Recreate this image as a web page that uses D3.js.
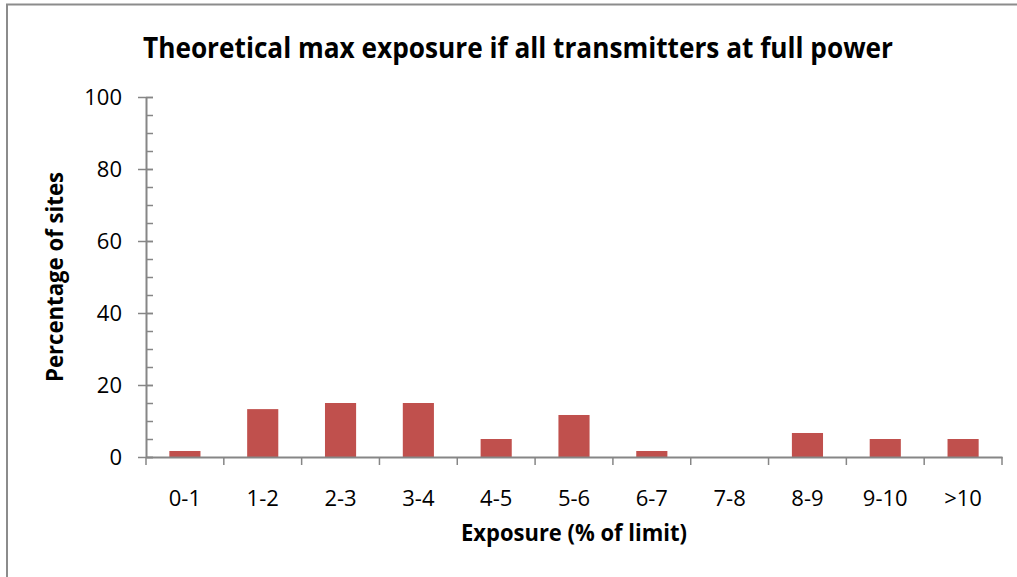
<!DOCTYPE html>
<html><head><meta charset="utf-8">
<script src="https://cdn.jsdelivr.net/npm/d3@7"></script>
<style>
body{margin:0;background:#fff;}
svg{display:block;}
text{font-family:"Open Sans","Noto Sans",sans-serif;fill:#000;}
</style></head>
<body>
<svg id="c" width="1017" height="577"></svg>
<script>
const categories = ["0-1","1-2","2-3","3-4","4-5","5-6","6-7","7-8","8-9","9-10",">10"];
const values = [1.67,13.3,15,15,5,11.67,1.67,0,6.67,5,5];
const yTicks = [0,20,40,60,80,100];
const titleText = "Theoretical max exposure if all transmitters at full power";
const xTitle = "Exposure (% of limit)";
const yTitle = "Percentage of sites";

const svg = d3.select("#c");
// chart area border
svg.append("path").attr("d","M7,577 V4.5 H1017").attr("fill","none").attr("stroke","#8c8c8c").attr("stroke-width",2);

const x0 = 146, x1 = 1002, yTop = 97, yBot = 457;
const x = d3.scaleBand().domain(categories).range([x0,x1]).paddingInner(0.6).paddingOuter(0.3);
const xb = d3.scaleBand().domain(categories).range([x0,x1]);
const y = d3.scaleLinear().domain([0,100]).range([yBot,yTop]);

// bars
svg.append("g").selectAll("rect").data(values).join("rect")
  .attr("x",(d,i)=>x(categories[i]))
  .attr("width",x.bandwidth())
  .attr("y",d=>y(d))
  .attr("height",d=>yBot-y(d))
  .attr("fill","#C0504D");

const axisColor = "#868686";
// y axis
const gy = svg.append("g").attr("transform",`translate(${x0},0)`);
gy.call(d3.axisRight(y).tickValues(d3.range(0,101,5)).tickSize(7).tickFormat(""))
  .call(g=>g.select(".domain").remove())
  .call(g=>g.selectAll("line").attr("stroke",axisColor).attr("stroke-width",1.5));
const gyM = svg.append("g").attr("transform",`translate(${x0},0)`);
gyM.call(d3.axisLeft(y).tickValues(yTicks).tickSize(0).tickPadding(24))
  .call(g=>g.select(".domain").attr("stroke",axisColor).attr("stroke-width",2))
  .call(g=>g.selectAll("text").attr("font-size",22).attr("fill","#000").attr("font-family","'Open Sans',sans-serif"));
gyM.selectAll(".tick").append("line").attr("x1",-8).attr("x2",7).attr("stroke",axisColor).attr("stroke-width",1.5);

// x axis
const gx = svg.append("g").attr("transform",`translate(0,${yBot})`);
gx.call(d3.axisBottom(xb).tickSize(0).tickPadding(33))
  .call(g=>g.select(".domain").attr("stroke",axisColor).attr("stroke-width",2))
  .call(g=>g.selectAll("text").attr("font-size",22).attr("fill","#000").attr("font-family","'Open Sans',sans-serif"));
const bounds = categories.map(c=>xb(c)).concat([x1]);
gx.selectAll("line.b").data(bounds).join("line").attr("class","b")
  .attr("x1",d=>d).attr("x2",d=>d).attr("y1",0).attr("y2",8)
  .attr("stroke",axisColor).attr("stroke-width",1.5);

// titles
svg.append("text").attr("x",518).attr("y",58).attr("text-anchor","middle")
  .attr("font-size",28).attr("font-weight","bold")
  .attr("textLength",750).attr("lengthAdjust","spacingAndGlyphs").text(titleText);
svg.append("text").attr("x",574).attr("y",541).attr("text-anchor","middle")
  .attr("font-size",23).attr("font-weight","bold")
  .attr("textLength",226).attr("lengthAdjust","spacingAndGlyphs").text(xTitle);
svg.append("text").attr("transform","translate(63,277) rotate(-90)").attr("text-anchor","middle")
  .attr("font-size",23).attr("font-weight","bold")
  .attr("textLength",210).attr("lengthAdjust","spacingAndGlyphs").text(yTitle);
</script>
</body></html>
